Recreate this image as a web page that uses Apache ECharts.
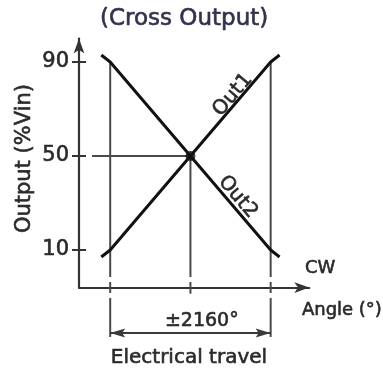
<!DOCTYPE html>
<html><head><meta charset="utf-8">
<script src="https://cdn.jsdelivr.net/npm/echarts@6/dist/echarts.min.js"></script>
<style>html,body{margin:0;padding:0;background:#fff}#c{width:383px;height:376px}</style>
</head><body><div id="c"></div>
<script>
// ---- data ----
const angles = [-2400, -2160, 2160, 2400];
const out1 = [7, 10, 90, 93];
const out2 = [93, 90, 10, 7];
const travelLimits = [-2160, 2160];
const crossPoint = [0, 50];
const yTickValues = [10, 50, 90];
const seriesNames = ['Out1', 'Out2'];
const travelLabel = '±2160°';

const FONT = 'DejaVu Sans';
const TXT = '#2a2a2a';
const GUIDE = '#4a4a4a';
const BW = 0.6;

const chart = echarts.init(document.getElementById('c'), null, {renderer: 'canvas'});

function vseg(api, x, y0, y1) {
  const a = api.coord([x, y0]), b = api.coord([x, y1]);
  return {type: 'line', shape: {x1: a[0], y1: a[1], x2: b[0], y2: b[1]},
          style: {stroke: GUIDE, lineWidth: 2}};
}
function txt(api, pos, text, size, align, rotation) {
  const p = api.coord(pos);
  return {type: 'text', x: p[0], y: p[1], rotation: rotation || 0,
    style: {text: text, fill: TXT, font: size + 'px "' + FONT + '"',
            stroke: TXT, lineWidth: BW,
            textAlign: align || 'center', textVerticalAlign: 'middle'}};
}

function renderGuides(params, api) {
  const ch = [];
  travelLimits.forEach(function (x) {
    ch.push(vseg(api, x, 90, -1.5));
    ch.push(vseg(api, x, -3.6, -8.3));
    ch.push(vseg(api, x, -10.4, -27));
  });
  ch.push(vseg(api, crossPoint[0], crossPoint[1], -1.5));
  ch.push(vseg(api, crossPoint[0], -3.6, -8.6));
  const h0 = api.coord([-2650, crossPoint[1]]), h1 = api.coord(crossPoint);
  ch.push({type: 'line', shape: {x1: h0[0], y1: h0[1], x2: h1[0], y2: h1[1]},
           style: {stroke: GUIDE, lineWidth: 2}});
  const dy = -25.3;
  const d0 = api.coord([travelLimits[0], dy]), d1 = api.coord([travelLimits[1], dy]);
  ch.push({type: 'line', shape: {x1: d0[0], y1: d0[1], x2: d1[0], y2: d1[1]},
           style: {stroke: '#3a3a3a', lineWidth: 2}});
  ch.push({type: 'polygon', shape: {points: [[d0[0], d0[1]], [d0[0] + 15, d0[1] - 4.5], [d0[0] + 12, d0[1]], [d0[0] + 15, d0[1] + 4.5]]},
           style: {fill: '#3a3a3a'}});
  ch.push({type: 'polygon', shape: {points: [[d1[0], d1[1]], [d1[0] - 15, d1[1] - 4.5], [d1[0] - 12, d1[1]], [d1[0] - 15, d1[1] + 4.5]]},
           style: {fill: '#3a3a3a'}});
  ch.push(txt(api, [306, -20.4], travelLabel, 19));
  ch.push(txt(api, [-40, -35.7], 'Electrical travel', 20));
  ch.push(txt(api, [3082, 2.1], 'CW', 18, 'left'));
  ch.push(txt(api, [3001, -15.5], 'Angle (°)', 18, 'left'));
  ch.push(txt(api, [-4455, 48.9], 'Output (%Vin)', 21, 'center', Math.PI / 2));
  ch.push(txt(api, [1140, 76], seriesNames[0], 20, 'center', 0.864));
  ch.push(txt(api, [1274, 32.6], seriesNames[1], 20, 'center', -0.864));
  return {type: 'group', children: ch};
}

const option = {
  backgroundColor: '#fff',
  animation: false,
  title: {text: '(Cross Output)', left: 95, top: 3,
          textStyle: {fontFamily: FONT, fontSize: 23, fontWeight: 'normal', color: '#32324a',
                      textBorderColor: '#32324a', textBorderWidth: BW}},
  grid: {left: 79, width: 230.3, top: 38.5, height: 249.1},
  xAxis: {type: 'value', min: -3000, max: 3200,
    axisLine: {show: true, onZero: false, symbol: ['none', 'arrow'], symbolSize: [8, 15],
               lineStyle: {color: '#333', width: 2.2}},
    axisTick: {show: false}, axisLabel: {show: false}, splitLine: {show: false}},
  yAxis: [
    {type: 'value', min: -6, max: 100,
     axisLine: {show: true, onZero: false, symbol: ['none', 'arrow'], symbolSize: [8, 15],
                lineStyle: {color: '#333', width: 2.2}},
     axisTick: {show: true, customValues: yTickValues, length: 7, lineStyle: {color: '#333', width: 2}},
     axisLabel: {show: true, customValues: yTickValues, margin: 10,
                 fontFamily: FONT, fontSize: 21, color: TXT,
                 textBorderColor: TXT, textBorderWidth: BW},
     splitLine: {show: false}},
    {type: 'value', min: -6, max: 100, position: 'left',
     axisLine: {show: false, onZero: false},
     axisTick: {show: true, inside: true, customValues: yTickValues, length: 7, lineStyle: {color: '#333', width: 2}},
     axisLabel: {show: false}, splitLine: {show: false}}
  ],
  series: [
    {type: 'custom', renderItem: renderGuides, data: [[0, 0]], silent: true, clip: false, z: 1},
    {name: seriesNames[0], type: 'line', data: angles.map((a, i) => [a, out1[i]]),
     symbol: 'none', lineStyle: {color: '#111', width: 3}, z: 3},
    {name: seriesNames[1], type: 'line', data: angles.map((a, i) => [a, out2[i]]),
     symbol: 'none', lineStyle: {color: '#111', width: 3}, z: 3},
    {type: 'scatter', data: [crossPoint], symbolSize: 10, itemStyle: {color: '#111'}, z: 4}
  ]
};
chart.setOption(option);
</script></body></html>
